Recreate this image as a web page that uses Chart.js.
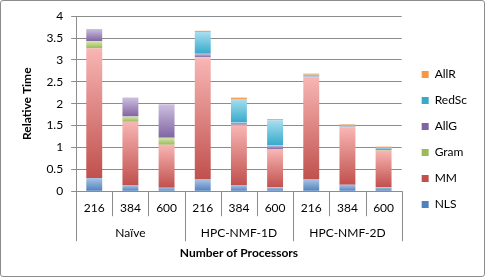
<!DOCTYPE html>
<html>
<head>
<meta charset="utf-8">
<script src="https://cdn.jsdelivr.net/npm/chart.js@4"></script>
<style>
  body { margin: 0; background: #fff; }
  #box { width: 485px; height: 277px; box-sizing: border-box; border: 1px solid #8c8c8c; border-radius: 3px; }
</style>
</head>
<body>
<div id="box"><canvas id="nmfChart" width="483" height="275"></canvas></div>
<script>
// Relative time breakdown per algorithm / processor count
const sizes  = ['216', '384', '600', '216', '384', '600', '216', '384', '600'];
const groups = ['Naïve', 'HPC-NMF-1D', 'HPC-NMF-2D'];
const yTicks = [0, 0.5, 1, 1.5, 2, 2.5, 3, 3.5, 4];

const nls   = [0.30, 0.14, 0.08, 0.27, 0.14, 0.09, 0.27, 0.15, 0.09];
const mm    = [2.97, 1.45, 0.98, 2.77, 1.37, 0.86, 2.33, 1.31, 0.84];
const gram  = [0.16, 0.12, 0.16, 0.02, 0.01, 0.01, 0.01, 0.01, 0.01];
const allg  = [0.28, 0.43, 0.77, 0.08, 0.05, 0.09, 0.01, 0.01, 0.03];
const redsc = [0, 0, 0, 0.50, 0.54, 0.57, 0.04, 0.03, 0.03];
const allr  = [0, 0, 0, 0.03, 0.03, 0.03, 0.03, 0.02, 0.02];

const FONT = 'Lato, "Open Sans", sans-serif';

// vertical gradient inside each stacked segment, light on top
function grad(top, bottom) {
  return ctx => {
    const chart = ctx.chart;
    const y = chart.scales.y;
    if (!y || ctx.type !== 'data') return bottom;
    let base = 0;
    for (let d = 0; d < ctx.datasetIndex; d++) base += chart.data.datasets[d].data[ctx.dataIndex];
    const v = chart.data.datasets[ctx.datasetIndex].data[ctx.dataIndex];
    const y0 = y.getPixelForValue(base), y1 = y.getPixelForValue(base + v);
    if (!isFinite(y0) || !isFinite(y1) || y0 === y1) return bottom;
    const g = chart.ctx.createLinearGradient(0, y1, 0, y0);
    g.addColorStop(0, top);
    g.addColorStop(1, bottom);
    return g;
  };
}

// group labels + divider lines under the category axis
const groupAxis = {
  id: 'groupAxis',
  afterDraw(chart) {
    const { ctx, chartArea, scales: { x } } = chart;
    const half = (x.getPixelForValue(1) - x.getPixelForValue(0)) / 2;
    const bottom = chartArea.bottom;
    ctx.save();
    ctx.strokeStyle = '#8c8c8c';
    ctx.lineWidth = 1;
    for (let i = 0; i <= sizes.length; i++) {
      const px = Math.round(i < sizes.length ? x.getPixelForValue(i) - half : x.getPixelForValue(i - 1) + half) + 0.5;
      const len = i % 3 === 0 ? 50 : 25;
      ctx.beginPath();
      ctx.moveTo(px, bottom);
      ctx.lineTo(px, bottom + len);
      ctx.stroke();
    }
    ctx.fillStyle = '#000';
    ctx.font = '12px ' + FONT;
    ctx.textAlign = 'center';
    ctx.textBaseline = 'middle';
    groups.forEach((g, gi) => {
      ctx.fillText(g, x.getPixelForValue(gi * 3 + 1), bottom + 42);
    });
    ctx.restore();
  }
};

const ctx = document.getElementById('nmfChart').getContext('2d');
new Chart(ctx, {
  type: 'bar',
  data: {
    labels: sizes,
    datasets: [
      { label: 'NLS',   data: nls,   backgroundColor: grad('#a9c3e3', '#4f81bd') },
      { label: 'MM',    data: mm,    backgroundColor: grad('#f8b6b4', '#c0504d') },
      { label: 'Gram',  data: gram,  backgroundColor: grad('#d3e6ad', '#9bbb59') },
      { label: 'AllG',  data: allg,  backgroundColor: grad('#cdc0e0', '#8064a2') },
      { label: 'RedSc', data: redsc, backgroundColor: grad('#a8def0', '#35aacb') },
      { label: 'AllR',  data: allr,  backgroundColor: grad('#fbb77c', '#f79646') }
    ]
  },
  options: {
    responsive: false,
    animation: false,
    layout: { padding: { top: 12, right: 7, left: 19, bottom: 16 } },
    datasets: { bar: { barPercentage: 0.44, categoryPercentage: 1 } },
    scales: {
      x: {
        stacked: true,
        grid: { display: false, drawTicks: false },
        border: { color: '#8c8c8c' },
        ticks: { color: '#000', font: { family: FONT, size: 12 }, padding: 10, maxRotation: 0 },
        title: { display: true, text: 'Number of Processors', color: '#000',
                 font: { family: FONT, size: 12, weight: 'bold' }, padding: { top: 20, bottom: 0 } }
      },
      y: {
        stacked: true,
        min: 0, max: 4,
        afterBuildTicks: axis => { axis.ticks = yTicks.map(v => ({ value: v })); },
        grid: { color: '#8c8c8c', tickLength: 5 },
        border: { color: '#8c8c8c' },
        ticks: { color: '#000', font: { family: FONT, size: 12 }, padding: 8, callback: v => String(v) },
        title: { display: true, text: 'Relative Time', color: '#000',
                 font: { family: FONT, size: 12, weight: 'bold' }, padding: { top: 0, bottom: 4 } }
      },
      // empty spacer between plot and legend
      gap: {
        position: 'right',
        display: true,
        grid: { display: false, drawTicks: false },
        border: { display: false },
        ticks: { display: false },
        afterFit: axis => { axis.width = 6; }
      }
    },
    plugins: {
      legend: {
        position: 'right',
        reverse: true,
        title: { display: true, text: '', font: { size: 5 }, padding: 0 },
        labels: { boxWidth: 7, boxHeight: 7, padding: 14, color: '#000', font: { family: FONT, size: 12 } }
      },
      tooltip: { enabled: false }
    }
  },
  plugins: [groupAxis]
});
</script>
</body>
</html>
